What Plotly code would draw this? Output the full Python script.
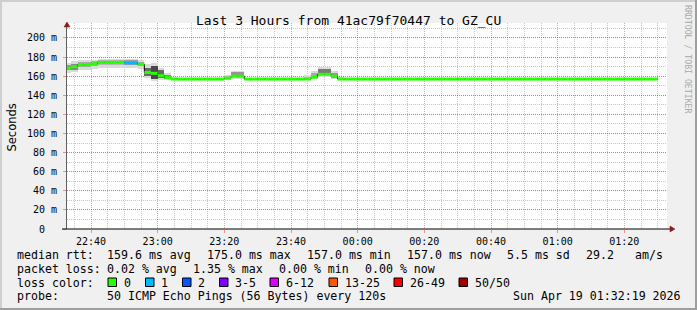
import plotly.graph_objects as go
import pandas as pd

# ---------------- data ----------------
TITLE = "Last 3 Hours from 41ac79f70447 to GZ_CU"
FIRST_STEP = "2026-04-18 22:32:00"
STEP_MIN = 2
X_RANGE = ["2026-04-18 22:32:48", "2026-04-19 01:32:48"]

# median rtt (ms) per 2-minute step
median = [
    168.5, 170.0, 172.0, 172.0, 173.0, 174.5, 174.5, 174.5, 174.5, 174.0,
    174.0, 172.5, 164.0, 163.0, 160.5, 158.5, 157.0, 157.0, 157.0, 157.0,
    157.0, 157.0, 157.0, 157.0, 158.0, 160.0, 160.0, 157.0, 157.0, 157.0,
    157.0, 157.0, 157.0, 157.0, 157.0, 157.0, 157.0, 159.0, 162.0, 162.0,
    160.0, 157.0, 157.0, 157.0, 157.0, 157.0, 157.0, 157.0, 157.0, 157.0,
    157.0, 157.0, 157.0, 157.0, 157.0, 157.0, 157.0, 157.0, 157.0, 157.0,
    157.0, 157.0, 157.0, 157.0, 157.0, 157.0, 157.0, 157.0, 157.0, 157.0,
    157.0, 157.0, 157.0, 157.0, 157.0, 157.0, 157.0, 157.0, 157.0, 157.0,
    157.0, 157.0, 157.0, 157.0, 157.0, 157.0, 157.0, 157.0, 157.0,
]
# loss class per step (index into loss colours)
loss_class = [
    0, 0, 0, 0, 0, 0, 0, 0, 0, 1,
    1, 0, 0, 0, 0, 0, 0, 0, 0, 0,
    0, 0, 0, 0, 0, 0, 0, 0, 0, 0,
    0, 0, 0, 0, 0, 0, 0, 0, 0, 0,
    0, 0, 0, 0, 0, 0, 0, 0, 0, 0,
    0, 0, 0, 0, 0, 0, 0, 0, 0, 0,
    0, 0, 0, 0, 0, 0, 0, 0, 0, 0,
    0, 0, 0, 0, 0, 0, 0, 0, 0, 0,
    0, 0, 0, 0, 0, 0, 0, 0, 0,
]
# outer smoke (min / max of pings)
smoke_lo = [
    163.0, 164.0, 167.0, 167.0, 168.0, 169.0, 169.0, 169.0, 169.0, 168.5,
    168.5, 168.0, 158.5, 155.0, 156.5, 155.5, 155.5, 156.2, 156.2, 156.2,
    156.2, 156.2, 156.2, 156.2, 156.5, 157.0, 157.0, 156.0, 156.2, 156.2,
    156.2, 156.2, 156.2, 156.2, 156.2, 156.2, 156.5, 157.0, 159.5, 159.5,
    157.0, 156.0, 156.2, 156.2, 156.2, 156.2, 156.2, 156.2, 156.2, 156.2,
    156.2, 156.2, 156.2, 156.2, 156.2, 156.2, 156.2, 156.2, 156.2, 156.2,
    156.2, 156.2, 156.2, 156.2, 156.2, 156.2, 156.2, 156.2, 156.2, 156.2,
    156.2, 156.2, 156.2, 156.2, 156.2, 156.2, 156.2, 156.2, 156.2, 156.2,
    156.2, 156.2, 156.2, 156.2, 156.2, 156.2, 156.2, 156.2, 156.2,
]
smoke_hi = [
    174.0, 175.5, 176.5, 176.5, 177.0, 177.5, 177.5, 177.5, 177.5, 178.5,
    178.5, 177.0, 172.5, 174.0, 169.0, 163.0, 159.5, 157.8, 157.8, 157.8,
    157.8, 157.8, 157.8, 157.8, 161.5, 165.5, 165.5, 158.5, 157.8, 157.8,
    157.8, 157.8, 157.8, 157.8, 157.8, 157.8, 161.0, 165.5, 170.0, 170.0,
    165.5, 159.5, 157.8, 157.8, 157.8, 157.8, 157.8, 157.8, 157.8, 157.8,
    157.8, 157.8, 157.8, 157.8, 157.8, 157.8, 157.8, 157.8, 157.8, 157.8,
    157.8, 157.8, 157.8, 157.8, 157.8, 157.8, 157.8, 157.8, 157.8, 157.8,
    157.8, 157.8, 157.8, 157.8, 157.8, 157.8, 157.8, 157.8, 157.8, 157.8,
    157.8, 157.8, 157.8, 157.8, 157.8, 157.8, 157.8, 157.8, 157.8,
]
# dense inner smoke
core_lo = [
    166.0, 167.0, 169.5, 169.5, 170.5, 172.0, 172.0, 172.0, 172.0, 171.5,
    171.5, 170.5, 160.5, 157.5, 158.0, 156.8, 156.5, 156.5, 156.5, 156.5,
    156.5, 156.5, 156.5, 156.5, 157.5, 159.0, 159.0, 156.5, 156.5, 156.5,
    156.5, 156.5, 156.5, 156.5, 156.5, 156.5, 157.5, 158.0, 162.0, 162.0,
    158.5, 156.5, 156.5, 156.5, 156.5, 156.5, 156.5, 156.5, 156.5, 156.5,
    156.5, 156.5, 156.5, 156.5, 156.5, 156.5, 156.5, 156.5, 156.5, 156.5,
    156.5, 156.5, 156.5, 156.5, 156.5, 156.5, 156.5, 156.5, 156.5, 156.5,
    156.5, 156.5, 156.5, 156.5, 156.5, 156.5, 156.5, 156.5, 156.5, 156.5,
    156.5, 156.5, 156.5, 156.5, 156.5, 156.5, 156.5, 156.5, 156.5,
]
core_hi = [
    171.5, 173.0, 174.5, 174.5, 175.5, 176.5, 176.5, 176.5, 176.5, 177.0,
    177.0, 175.0, 169.0, 171.0, 166.0, 161.0, 158.0, 157.5, 157.5, 157.5,
    157.5, 157.5, 157.5, 157.5, 160.0, 164.0, 164.0, 157.5, 157.5, 157.5,
    157.5, 157.5, 157.5, 157.5, 157.5, 157.5, 159.5, 163.0, 168.0, 168.0,
    163.0, 158.0, 157.5, 157.5, 157.5, 157.5, 157.5, 157.5, 157.5, 157.5,
    157.5, 157.5, 157.5, 157.5, 157.5, 157.5, 157.5, 157.5, 157.5, 157.5,
    157.5, 157.5, 157.5, 157.5, 157.5, 157.5, 157.5, 157.5, 157.5, 157.5,
    157.5, 157.5, 157.5, 157.5, 157.5, 157.5, 157.5, 157.5, 157.5, 157.5,
    157.5, 157.5, 157.5, 157.5, 157.5, 157.5, 157.5, 157.5, 157.5,
]
# grey level of the inner smoke (0 black .. 255 white)
core_grey = [
    150, 136, 170, 170, 176, 184, 184, 184, 184, 160,
    160, 170, 104, 72, 104, 140, 196, 200, 200, 200,
    200, 200, 200, 200, 190, 150, 150, 200, 200, 200,
    200, 200, 200, 200, 200, 200, 196, 168, 120, 120,
    150, 196, 200, 200, 200, 200, 200, 200, 200, 200,
    200, 200, 200, 200, 200, 200, 200, 200, 200, 200,
    200, 200, 200, 200, 200, 200, 200, 200, 200, 200,
    200, 200, 200, 200, 200, 200, 200, 200, 200, 200,
    200, 200, 200, 200, 200, 200, 200, 200, 200,
]

y_tickvals = [0, 20, 40, 60, 80, 100, 120, 140, 160, 180, 200]
y_ticktext = ["0\u00a0\u00a0", "20 m", "40 m", "60 m", "80 m", "100 m",
              "120 m", "140 m", "160 m", "180 m", "200 m"]
Y_MAX = 215.7

loss_labels = ["0", "1", "2", "3-5", "6-12", "13-25", "26-49", "50/50"]
loss_colors = ["#26ff00", "#00b8ff", "#0059ff", "#7e00ff", "#dd00ff",
               "#ff5500", "#ff0000", "#a10000"]

legend_rtt = [("median rtt:", 16), ("159.6 ms avg", 106), ("175.0 ms max", 206),
              ("157.0 ms min", 306), ("157.0 ms now", 406), ("5.5 ms sd", 506),
              ("29.2", 585), ("am/s", 634)]
legend_loss = [("packet loss:", 16), ("0.02 % avg", 106), ("1.35 % max", 192),
               ("0.00 % min", 278), ("0.00 % now", 364)]
legend_probe = [("probe:", 16), ("50 ICMP Echo Pings (56 Bytes) every 120s", 106),
                ("Sun Apr 19 01:32:19 2026", 512)]
loss_box_x = [108, 145.5, 182.5, 219.5, 270, 329, 394, 459]

# ---------------- layout geometry (pixels) ----------------
W, H = 697, 310
PL, PR, PT, PB = 67, 667, 23, 229
MONO = "DejaVu Sans Mono"
FS = 11.6


def px(x):
    return (x - PL) / (PR - PL)


def py(y):
    return (PB - y) / (PB - PT)


steps = pd.date_range(FIRST_STEP, periods=len(median), freq=f"{STEP_MIN}min")
step_w = pd.Timedelta(minutes=STEP_MIN)
step_ms = STEP_MIN * 60 * 1000

fig = go.Figure()

# smoke
fig.add_trace(go.Bar(
    x=steps, base=smoke_lo, y=[h - l for h, l in zip(smoke_hi, smoke_lo)],
    width=step_ms, offset=0, marker=dict(color="#dadada", line_width=0),
    hoverinfo="skip", showlegend=False))
fig.add_trace(go.Bar(
    x=steps, base=core_lo, y=[h - l for h, l in zip(core_hi, core_lo)],
    width=step_ms, offset=0,
    marker=dict(color=[f"rgb({g},{g},{g})" for g in core_grey], line_width=0),
    hoverinfo="skip", showlegend=False))

# thin black median (gives the vertical connectors)
fig.add_trace(go.Scatter(
    x=list(steps) + [steps[-1] + step_w], y=median + [median[-1]],
    mode="lines", line=dict(color="black", width=1, shape="hv"),
    hoverinfo="skip", showlegend=False))

# loss-coloured median segments
for k, col in enumerate(loss_colors):
    xs, ys = [], []
    for t, v, c in zip(steps, median, loss_class):
        if c == k:
            xs += [t, t + step_w, None]
            ys += [v, v, None]
    if xs:
        fig.add_trace(go.Scatter(x=xs, y=ys, mode="lines",
                                 line=dict(color=col, width=3),
                                 hoverinfo="skip", showlegend=False))

RED_GRID = "rgba(255,0,0,0.42)"
GREY_GRID = "rgba(130,130,130,0.45)"

fig.update_layout(
    width=W, height=H,
    margin=dict(l=PL, r=W - PR, t=PT, b=H - PB, pad=0),
    paper_bgcolor="#f0f0f0", plot_bgcolor="#ffffff",
    barmode="overlay", bargap=0, showlegend=False,
    font=dict(family=MONO, size=10, color="#000000"),
    xaxis=dict(
        type="date", range=X_RANGE, tickformat="%H:%M",
        tick0="2026-04-18 22:40:00", dtick=20 * 60 * 1000,
        showgrid=True, gridcolor=RED_GRID, griddash="1px,1px", gridwidth=1,
        minor=dict(dtick=5 * 60 * 1000, showgrid=True, gridcolor=GREY_GRID,
                   griddash="1px,1px", gridwidth=1),
        ticks="outside", ticklen=3, tickcolor=RED_GRID,
        showline=False, zeroline=False, fixedrange=True,
        tickfont=dict(family=MONO, size=10, color="#000000"),
    ),
    yaxis=dict(
        range=[0, Y_MAX], tickvals=y_tickvals, ticktext=y_ticktext,
        showgrid=True, gridcolor=RED_GRID, griddash="1px,1px", gridwidth=1,
        minor=dict(dtick=10, showgrid=True, gridcolor=GREY_GRID,
                   griddash="1px,1px", gridwidth=1),
        ticks="outside", ticklen=3, tickcolor=RED_GRID, ticklabelstandoff=4,
        showline=True, linecolor="#606060", linewidth=1,
        zeroline=False, fixedrange=True,
        tickfont=dict(family=MONO, size=10, color="#000000"),
    ),
)

shapes = []
# frame (3D shade)
shapes.append(dict(type="rect", xref="paper", yref="paper",
                   x0=px(0), x1=px(W), y0=py(0), y1=py(2),
                   fillcolor="#cfcfcf", line_width=0, layer="below"))
shapes.append(dict(type="rect", xref="paper", yref="paper",
                   x0=px(0), x1=px(2), y0=py(0), y1=py(H),
                   fillcolor="#cfcfcf", line_width=0, layer="below"))
shapes.append(dict(type="rect", xref="paper", yref="paper",
                   x0=px(W - 2), x1=px(W), y0=py(0), y1=py(H),
                   fillcolor="#9e9e9e", line_width=0, layer="below"))
shapes.append(dict(type="rect", xref="paper", yref="paper",
                   x0=px(0), x1=px(W), y0=py(H - 2), y1=py(H),
                   fillcolor="#9e9e9e", line_width=0, layer="below"))
# x axis line extending past the plot, with arrows
shapes.append(dict(type="line", xref="paper", yref="paper",
                   x0=px(62), x1=px(671), y0=0, y1=0,
                   line=dict(color="#000000", width=1)))
shapes.append(dict(type="path", xref="paper", yref="paper",
                   xsizemode="pixel", ysizemode="pixel",
                   xanchor=px(670), yanchor=0,
                   path="M 0 -3 L 5 0 L 0 3 Z",
                   fillcolor="#8b1a1a", line=dict(color="#8b1a1a", width=0.5)))
shapes.append(dict(type="path", xref="paper", yref="paper",
                   xsizemode="pixel", ysizemode="pixel",
                   xanchor=0, yanchor=py(27),
                   path="M -3 0 L 0 5 L 3 0 Z",
                   fillcolor="#8b1a1a", line=dict(color="#8b1a1a", width=0.5)))
# loss colour boxes
for bx, col in zip(loss_box_x, loss_colors):
    shapes.append(dict(type="rect", xref="paper", yref="paper",
                       x0=px(bx), x1=px(bx + 8.5), y0=py(286.5), y1=py(278),
                       fillcolor=col, line=dict(color="#000000", width=1)))

annotations = []
annotations.append(dict(text=TITLE, x=px(348.5), y=py(20), xref="paper", yref="paper",
                        xanchor="center", yanchor="middle", showarrow=False,
                        font=dict(family=MONO, size=13, color="#000000")))
annotations.append(dict(text="Seconds", x=px(11), y=py(127.5), xref="paper", yref="paper",
                        xanchor="center", yanchor="middle", showarrow=False,
                        textangle=-90,
                        font=dict(family="DejaVu Sans", size=11.5, color="#000000")))
annotations.append(dict(text="RRDTOOL / TOBI OETIKER", x=px(688), y=py(59),
                        xref="paper", yref="paper", xanchor="center", yanchor="middle",
                        showarrow=False, textangle=90,
                        font=dict(family=MONO, size=8.2, color="#aaaaaa")))


def add_line(items, ycen):
    for txt, x in items:
        annotations.append(dict(text=txt, x=px(x - 1), y=py(ycen), xref="paper", yref="paper",
                                xanchor="left", yanchor="middle", showarrow=False,
                                font=dict(family=MONO, size=FS, color="#000000")))


add_line(legend_rtt, 255)
add_line(legend_loss, 268.5)
add_line([("loss color:", 16)] + [(lab, bx + 14.5) for lab, bx in zip(loss_labels, loss_box_x)], 282.5)
add_line(legend_probe, 296)

fig.update_layout(shapes=shapes, annotations=annotations)
fig.write_html("out.html")
